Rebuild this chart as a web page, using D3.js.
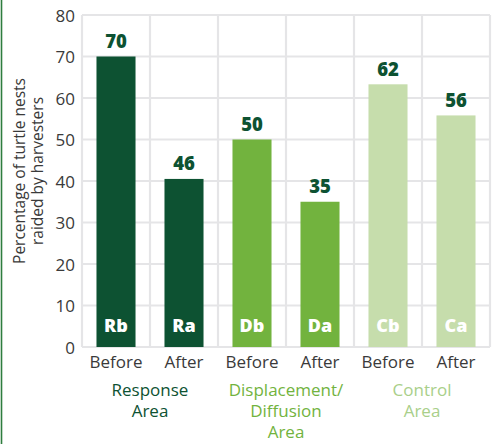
<!DOCTYPE html>
<html>
<head>
<meta charset="utf-8">
<script src="https://cdn.jsdelivr.net/npm/d3@7"></script>
<style>
  html, body { margin: 0; padding: 0; background: #ffffff; }
  svg { display: block; }
  text { font-family: "Open Sans", "Lato", sans-serif; }
</style>
</head>
<body>
<script>
// ---- data ----
const codes = ["Rb", "Ra", "Db", "Da", "Cb", "Ca"];
const periods = ["Before", "After", "Before", "After", "Before", "After"];
const barValues = [70, 40.5, 50, 35, 63.3, 55.8];      // bar heights as drawn
const labelValues = [70, 46, 50, 35, 62, 56];            // printed value labels
const areaOf = ["Response", "Response", "Displacement", "Displacement", "Control", "Control"];
const areaNames = ["Response", "Displacement", "Control"];
const areaLabels = [["Response", "Area"], ["Displacement/", "Diffusion", "Area"], ["Control", "Area"]];
const yTicks = [0, 10, 20, 30, 40, 50, 60, 70, 80];
const yTitle = ["Percentage of turtle nests", "raided by harvesters"];

// ---- styles ----
const W = 492, H = 444;
const areaColor = { Response: "#0d5232", Displacement: "#72b33e", Control: "#c6ddac" };
const areaTextColor = { Response: "#0d5232", Displacement: "#72b33e", Control: "#a9cf8a" };
const gridColor = "#e5e5e7";
const textColor = "#3a3a3a";

const svg = d3.select("body").append("svg").attr("width", W).attr("height", H);

// left frame line
svg.append("line").attr("x1", 1.5).attr("x2", 1.5).attr("y1", 0).attr("y2", H)
  .attr("stroke", "#2f7d3f").attr("stroke-width", 1.6);

const x = d3.scaleBand().domain(d3.range(codes.length)).range([82, 490])
  .paddingInner(0.426).paddingOuter(0.213);
const y = d3.scaleLinear().domain([0, 80]).range([347, 15]);
const step = x.step();

// grid
const g = svg.append("g");
g.selectAll("line.h").data(yTicks).join("line").attr("class", "h")
  .attr("x1", 82).attr("x2", 490)
  .attr("y1", d => y(d)).attr("y2", d => y(d))
  .attr("stroke", gridColor).attr("stroke-width", 2.2);
g.selectAll("line.v").data(d3.range(codes.length + 1)).join("line").attr("class", "v")
  .attr("x1", i => 82 + i * step).attr("x2", i => 82 + i * step)
  .attr("y1", y(80)).attr("y2", y(0))
  .attr("stroke", gridColor).attr("stroke-width", 2.2);

// y axis labels
const yAxis = d3.axisLeft(y).tickValues(yTicks).tickSize(0).tickPadding(0);
const ya = svg.append("g").attr("transform", "translate(75,0)").call(yAxis);
ya.select(".domain").remove();
ya.selectAll("text").attr("font-size", 17).attr("fill", textColor)
  .attr("font-family", "'Open Sans', sans-serif").attr("dy", "0.36em");

// y title
const yt = svg.append("text").attr("transform", "translate(0,171) rotate(-90)")
  .attr("text-anchor", "middle").attr("font-size", 15.5).attr("fill", textColor);
yTitle.forEach((t, i) => yt.append("tspan").attr("x", 0).attr("y", 25 + i * 18).text(t));

// bars
svg.selectAll("rect.bar").data(barValues).join("rect").attr("class", "bar")
  .attr("x", (d, i) => x(i)).attr("width", x.bandwidth())
  .attr("y", d => y(d)).attr("height", d => y(0) - y(d))
  .attr("fill", (d, i) => areaColor[areaOf[i]]);

// value labels
svg.selectAll("text.val").data(labelValues).join("text").attr("class", "val")
  .attr("x", (d, i) => x(i) + x.bandwidth() / 2)
  .attr("y", (d, i) => y(barValues[i]) - 8.5)
  .attr("text-anchor", "middle").attr("font-size", 18.5).attr("font-weight", 800)
  .attr("fill", "#0d5232").text(d => d);

// codes inside bars
svg.selectAll("text.code").data(codes).join("text").attr("class", "code")
  .attr("x", (d, i) => x(i) + x.bandwidth() / 2).attr("y", 332)
  .attr("text-anchor", "middle").attr("font-size", 18).attr("font-weight", 800)
  .attr("fill", "#ffffff").text(d => d);

// period labels
const xAxis = d3.axisBottom(x).tickFormat(i => periods[i]).tickSize(0).tickPadding(0);
const xa = svg.append("g").attr("transform", "translate(0,355)").call(xAxis);
xa.select(".domain").remove();
xa.selectAll("text").attr("font-size", 17).attr("fill", textColor)
  .attr("font-family", "'Open Sans', sans-serif").attr("dy", "0.74em");

// area labels
areaNames.forEach((a, k) => {
  const idx = d3.range(codes.length).filter(i => areaOf[i] === a);
  const cx = d3.mean(idx, i => x(i) + x.bandwidth() / 2);
  const t = svg.append("text").attr("text-anchor", "middle").attr("font-size", 17)
    .attr("fill", areaTextColor[a]);
  areaLabels[k].forEach((s, j) => t.append("tspan").attr("x", cx).attr("y", 396 + j * 21).text(s));
});
</script>
</body>
</html>
